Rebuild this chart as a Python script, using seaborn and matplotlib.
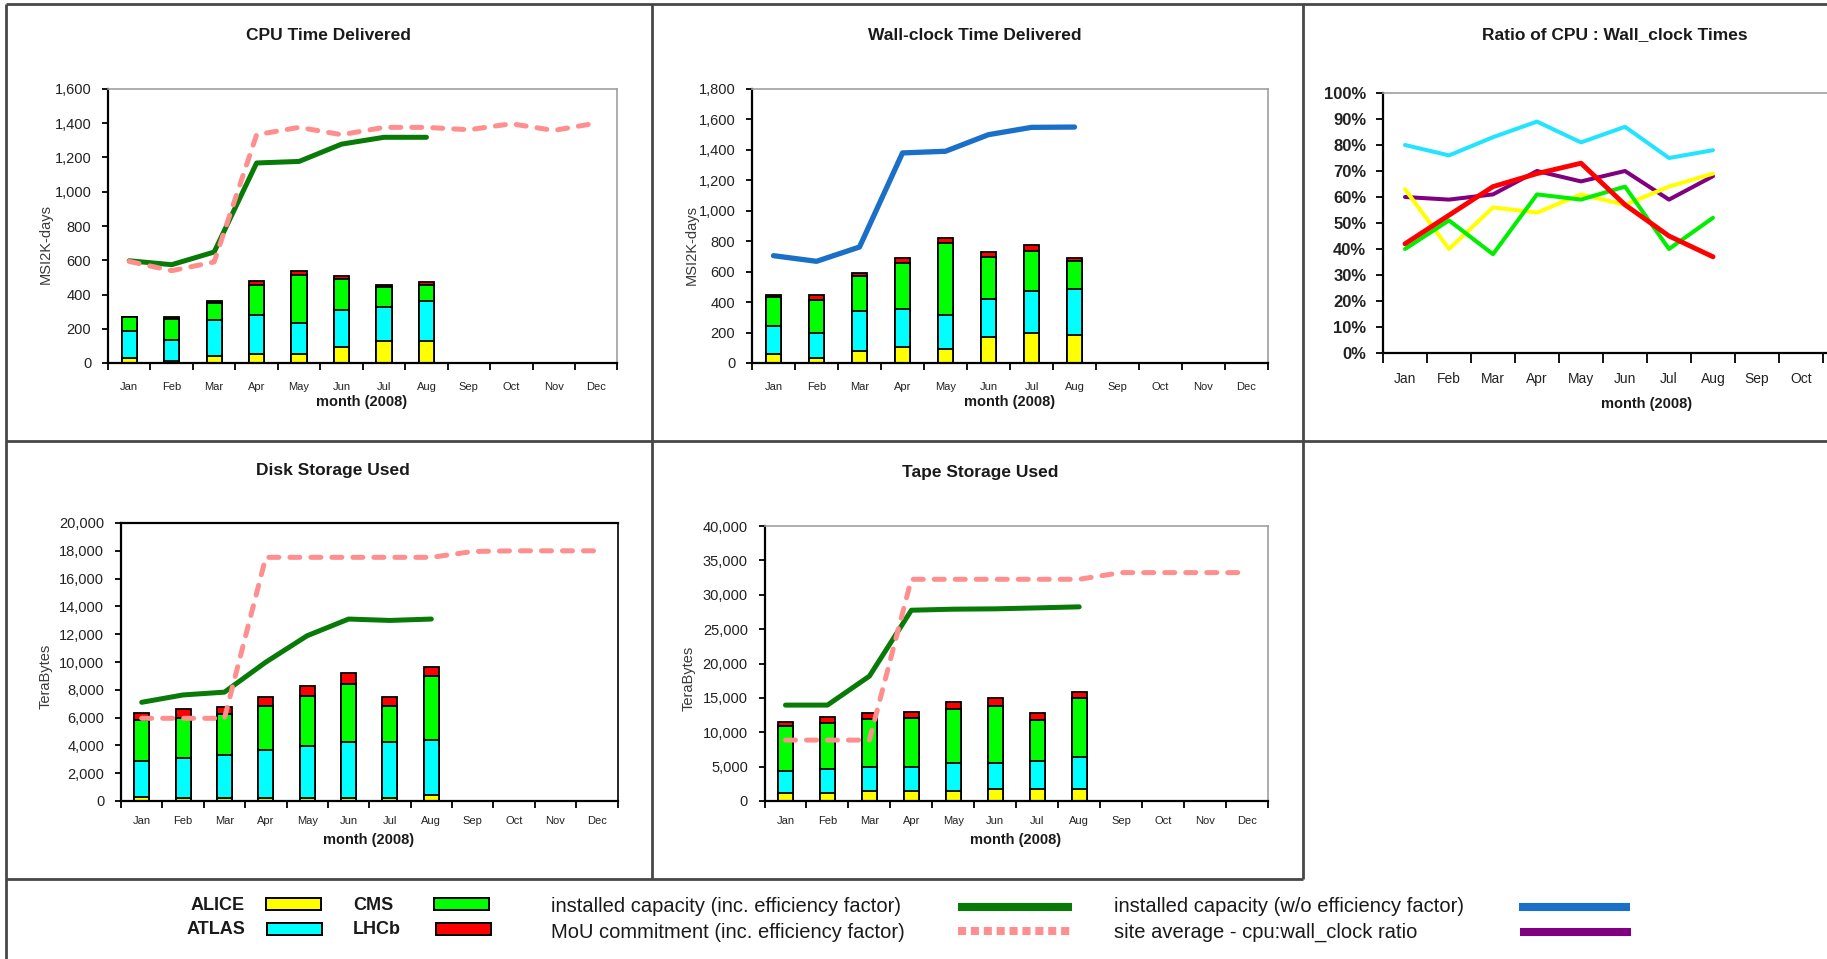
import numpy as np
import pandas as pd
import matplotlib
matplotlib.use("Agg")
import matplotlib.pyplot as plt
from matplotlib.patches import Rectangle
from matplotlib.lines import Line2D
from matplotlib.ticker import FuncFormatter, FixedLocator, FixedFormatter, MultipleLocator
import seaborn as sns

# ---------------------------------------------------------------- data
MONTHS = ["Jan", "Feb", "Mar", "Apr", "May", "Jun", "Jul", "Aug", "Sep", "Oct", "Nov", "Dec"]
# the ratio chart runs past the right edge of the page: only Jan-Oct are labelled
RATIO_MONTH_LABELS = ["Jan", "Feb", "Mar", "Apr", "May", "Jun", "Jul", "Aug", "Sep", "Oct", "", ""]
EXPERIMENTS = ["ALICE", "ATLAS", "CMS", "LHCb"]

# CPU time delivered (MSI2K-days), Jan-Aug 2008
CPU_ALICE = [29, 10, 43, 55, 55, 91, 126, 126]
CPU_ATLAS = [156, 126, 210, 223, 178, 220, 201, 234]
CPU_CMS = [82, 121, 97, 175, 279, 179, 117, 97]
CPU_LHCB = [3, 11, 14, 27, 27, 16, 11, 14]
CPU_INSTALLED = [597, 574, 648, 1168, 1177, 1278, 1318, 1318]
CPU_MOU = [593, 539, 590, 1333, 1376, 1333, 1376, 1376, 1362, 1397, 1358, 1401]

# Wall-clock time delivered (MSI2K-days)
WALL_ALICE = [61, 33, 77, 103, 92, 169, 197, 182]
WALL_ATLAS = [184, 164, 262, 252, 221, 251, 274, 304]
WALL_CMS = [186, 219, 230, 302, 475, 276, 263, 186]
WALL_LHCB = [18, 33, 22, 33, 33, 31, 43, 18]
WALL_INSTALLED = [705, 668, 762, 1380, 1391, 1500, 1548, 1550]

# CPU : wall-clock ratio (%)
RATIO_ALICE = [63, 40, 56, 54, 61, 57, 64, 69]
RATIO_ATLAS = [80, 76, 83, 89, 81, 87, 75, 78]
RATIO_CMS = [40, 51, 38, 61, 59, 64, 40, 52]
RATIO_LHCB = [42, 53, 64, 69, 73, 57, 45, 37]
RATIO_SITE = [60, 59, 61, 70, 66, 70, 59, 68]
RATIO_BASE = [0, 0, 0, 0, 0, 0, 0, 0, 0, 0, 0, 0]

# Disk storage used (TeraBytes)
DISK_ALICE = [260, 250, 250, 250, 250, 250, 250, 430]
DISK_ATLAS = [2645, 2823, 3063, 3424, 3712, 3976, 3976, 3964]
DISK_CMS = [2929, 2930, 2930, 3169, 3625, 4178, 2617, 4634]
DISK_LHCB = [481, 600, 504, 624, 720, 792, 624, 600]
DISK_INSTALLED = [7100, 7630, 7830, 9990, 11890, 13090, 12990, 13090]
DISK_MOU = [5950, 5950, 5950, 17530, 17530, 17530, 17530, 17530, 17950, 18000, 18000, 18000]

# Tape storage used (TeraBytes)
TAPE_ALICE = [1110, 1210, 1450, 1450, 1450, 1740, 1740, 1740]
TAPE_ATLAS = [3250, 3390, 3540, 3540, 4120, 3730, 4070, 4700]
TAPE_CMS = [6590, 6680, 6880, 7120, 7750, 8380, 5960, 8570]
TAPE_LHCB = [580, 970, 870, 870, 1110, 1070, 970, 870]
TAPE_INSTALLED = [13950, 13950, 18160, 27750, 27900, 27950, 28090, 28240]
TAPE_MOU = [8860, 8860, 8860, 32250, 32250, 32250, 32250, 32250, 33220, 33220, 33220, 33220]

# ---------------------------------------------------------------- style
EXP_COLORS = {"ALICE": "#ffff00", "ATLAS": "#00ffff", "CMS": "#00ff00", "LHCb": "#ff0000"}
RATIO_COLORS = {"ALICE": "#ffff00", "ATLAS": "#22e4ff", "CMS": "#00ee00", "LHCb": "#ff0000"}
C_INSTALLED = "#087a08"
C_MOU = "#ff8e8e"
C_NOEFF = "#1a70c8"
C_SITE = "#800080"
FRAME = "#474747"

sns.set_theme(style="white")
plt.rcParams["font.family"] = ["Liberation Sans", "DejaVu Sans"]
plt.rcParams["text.color"] = "#1a1a1a"

FIG_W, FIG_H = 1827, 959
fig = plt.figure(figsize=(FIG_W / 100, FIG_H / 100), dpi=100)


def px_axes(left, top, right, bottom):
    return fig.add_axes([left / FIG_W, 1 - bottom / FIG_H,
                         (right - left) / FIG_W, (bottom - top) / FIG_H])


def stacked_bars(ax, parts):
    tops = np.cumsum(np.array(parts, dtype=float), axis=0)
    n = tops.shape[1]
    # tallest cumulative stack first, each lower stack drawn over it
    for name, top in reversed(list(zip(EXPERIMENTS, tops))):
        df = pd.DataFrame({"month": MONTHS[:n], "value": top})
        sns.barplot(data=df, x="month", y="value", order=MONTHS,
                    color=EXP_COLORS[name], saturation=1, width=0.36,
                    edgecolor="black", linewidth=1.3, errorbar=None, ax=ax)


def line(ax, values, color, lw, dashed=False, z=3):
    df = pd.DataFrame({"month": MONTHS[:len(values)], "value": values})
    if dashed:
        kw = dict(linestyle=(0, (2.0, 2.2)), dash_capstyle="round")
    else:
        kw = dict(solid_capstyle="round", solid_joinstyle="round")
    sns.lineplot(data=df, x="month", y="value", color=color, linewidth=lw,
                 sort=False, legend=False, ax=ax, zorder=z, **kw)


def style_axis(ax, ymax, step, fmt, tick_size=10.5, month_size=8,
               month_pad=13.5, ybold=False, top_color="#a0a0a0", labels=MONTHS):
    ax.set_xlim(-0.5, len(MONTHS) - 0.5)
    ax.set_ylim(0, ymax)
    ax.set_xlabel("")
    ax.set_ylabel("")
    ax.set_facecolor("white")
    ax.yaxis.set_major_locator(MultipleLocator(step))
    ax.yaxis.set_major_formatter(FuncFormatter(fmt))
    ax.yaxis.set_minor_locator(FixedLocator(np.arange(step, ymax, step)))
    ax.grid(False)
    ax.yaxis.grid(True, which="minor", color="black", linewidth=1.5)
    ax.set_axisbelow(True)
    ax.xaxis.set_major_locator(FixedLocator(np.arange(len(MONTHS))))
    ax.xaxis.set_major_formatter(FixedFormatter(labels))
    ax.xaxis.set_minor_locator(FixedLocator(np.arange(-0.5, len(MONTHS), 1.0)))
    ax.tick_params(axis="x", which="major", length=0, labelsize=month_size,
                   pad=month_pad, labelcolor="#222222")
    ax.tick_params(axis="x", which="minor", length=5, width=1.3,
                   direction="out", color="black", bottom=True)
    ax.tick_params(axis="y", which="major", length=4, width=1.3, direction="out",
                   color="black", labelsize=tick_size, pad=8, left=True,
                   labelcolor="#222222")
    ax.tick_params(axis="y", which="minor", length=0)
    if ybold:
        for t in ax.get_yticklabels():
            t.set_fontweight("bold")
    for side in ("left", "bottom"):
        ax.spines[side].set_color("black")
        ax.spines[side].set_linewidth(1.6)
    for side in ("top", "right"):
        ax.spines[side].set_color(top_color)
        ax.spines[side].set_linewidth(1.2)


thousands = lambda v, p: f"{int(round(v)):,}"
percent = lambda v, p: f"{int(round(v))}%"

# ---------------------------------------------------------------- CPU
ax_cpu = px_axes(108, 89, 617.5, 363)
stacked_bars(ax_cpu, [CPU_ALICE, CPU_ATLAS, CPU_CMS, CPU_LHCB])
line(ax_cpu, CPU_INSTALLED, C_INSTALLED, 3.6)
line(ax_cpu, CPU_MOU, C_MOU, 3.6, dashed=True, z=4)
style_axis(ax_cpu, 1600, 200, thousands)

# ---------------------------------------------------------------- Wall-clock
ax_wall = px_axes(752, 89, 1268, 363)
stacked_bars(ax_wall, [WALL_ALICE, WALL_ATLAS, WALL_CMS, WALL_LHCB])
line(ax_wall, WALL_INSTALLED, C_NOEFF, 3.8)
style_axis(ax_wall, 1800, 200, thousands)

# ---------------------------------------------------------------- Ratio
ax_ratio = px_axes(1383, 93, 1911, 353)
line(ax_ratio, RATIO_BASE, "#a00000", 1.2, z=2)
line(ax_ratio, RATIO_ATLAS, RATIO_COLORS["ATLAS"], 2.9)
line(ax_ratio, RATIO_SITE, C_SITE, 2.9)
line(ax_ratio, RATIO_ALICE, RATIO_COLORS["ALICE"], 2.9)
line(ax_ratio, RATIO_CMS, RATIO_COLORS["CMS"], 2.9)
line(ax_ratio, RATIO_LHCB, RATIO_COLORS["LHCb"], 3.5)
style_axis(ax_ratio, 100, 10, percent, tick_size=12, month_size=10,
           month_pad=13.5, ybold=True, labels=RATIO_MONTH_LABELS)
ax_ratio.tick_params(axis="x", which="minor", length=7)
ax_ratio.tick_params(axis="y", which="major", length=5, pad=7)

# ---------------------------------------------------------------- Disk
ax_disk = px_axes(121, 523, 617.5, 801)
stacked_bars(ax_disk, [DISK_ALICE, DISK_ATLAS, DISK_CMS, DISK_LHCB])
line(ax_disk, DISK_INSTALLED, C_INSTALLED, 3.6)
line(ax_disk, DISK_MOU, C_MOU, 3.6, dashed=True, z=4)
style_axis(ax_disk, 20000, 2000, thousands, month_pad=11, top_color="black")
ax_disk.spines["top"].set_linewidth(1.6)

# ---------------------------------------------------------------- Tape
ax_tape = px_axes(764.5, 526, 1268, 801)
stacked_bars(ax_tape, [TAPE_ALICE, TAPE_ATLAS, TAPE_CMS, TAPE_LHCB])
line(ax_tape, TAPE_INSTALLED, C_INSTALLED, 3.6)
line(ax_tape, TAPE_MOU, C_MOU, 3.6, dashed=True, z=4)
style_axis(ax_tape, 40000, 5000, thousands, month_pad=11)

# ---------------------------------------------------------------- frame, titles, legend
ov = fig.add_axes([0, 0, 1, 1])
ov.set_xlim(0, FIG_W)
ov.set_ylim(FIG_H, 0)
ov.axis("off")
ov.patch.set_alpha(0)

frame_kw = dict(color=FRAME, linewidth=2.0, solid_capstyle="butt")
ov.plot([6, FIG_W], [4, 4], **frame_kw)
ov.plot([6, 6], [4, FIG_H], **frame_kw)
ov.plot([652, 652], [4, 879], **frame_kw)
ov.plot([1303, 1303], [4, 879], **frame_kw)
ov.plot([6, FIG_W], [441, 441], **frame_kw)
ov.plot([6, 1303], [879, 879], **frame_kw)

title_kw = dict(ha="center", va="center", fontsize=12.5, fontweight="bold")
ov.text(328, 35, "CPU Time Delivered", **title_kw)
ov.text(975, 35, "Wall-clock Time Delivered", **title_kw)
ov.text(1615, 35, "Ratio of CPU : Wall_clock Times", **title_kw)
ov.text(333, 470, "Disk Storage Used", **title_kw)
ov.text(980, 472, "Tape Storage Used", **title_kw)

xl_kw = dict(ha="center", va="center", fontsize=10.5, fontweight="bold")
for x, y in [(362, 402), (1010, 402), (1647, 404), (369, 840), (1016, 840)]:
    ov.text(x, y, "month (2008)", **xl_kw)

yl_kw = dict(ha="center", va="center", fontsize=10.5, rotation=90, color="#3a3a3a")
ov.text(46, 244, "MSI2K-days", **yl_kw)
ov.text(692, 245, "MSI2K-days", **yl_kw)
ov.text(46, 676, "TeraBytes", **yl_kw)
ov.text(689, 678, "TeraBytes", **yl_kw)

# legend: experiments
lg_bold = dict(fontsize=13, fontweight="bold", va="center")
ov.text(245, 905, "ALICE", ha="right", **lg_bold)
ov.text(245, 930, "ATLAS", ha="right", **lg_bold)
ov.text(353, 905, "CMS", ha="left", **lg_bold)
ov.text(353, 930, "LHCb", ha="left", **lg_bold)
for (x, y), name in zip([(266, 898), (267, 923), (434, 898), (436, 923)], EXPERIMENTS):
    ov.add_patch(Rectangle((x, y), 55, 12, facecolor=EXP_COLORS[name],
                           edgecolor="black", linewidth=1.4))

# legend: lines
lg_txt = dict(fontsize=14.5, va="center", ha="left")
ov.text(551, 907, "installed capacity (inc. efficiency factor)", **lg_txt)
ov.text(551, 932, "MoU commitment (inc. efficiency factor)", **lg_txt)
ov.text(1114, 907, "installed capacity (w/o efficiency factor)", **lg_txt)
ov.text(1114, 932, "site average - cpu:wall_clock ratio", **lg_txt)
ov.add_line(Line2D([958, 1072], [907, 907], color=C_INSTALLED, linewidth=5.8,
                   solid_capstyle="butt"))
ov.add_line(Line2D([958, 1072], [931, 931], color=C_MOU, linewidth=5.8,
                   linestyle=(0, (1.0, 0.6)), dash_capstyle="butt"))
ov.add_line(Line2D([1519, 1630], [907, 907], color=C_NOEFF, linewidth=5.8,
                   solid_capstyle="butt"))
ov.add_line(Line2D([1520, 1631], [932, 932], color=C_SITE, linewidth=5.8,
                   solid_capstyle="butt"))

fig.savefig("out.png", dpi=100, facecolor="white")
